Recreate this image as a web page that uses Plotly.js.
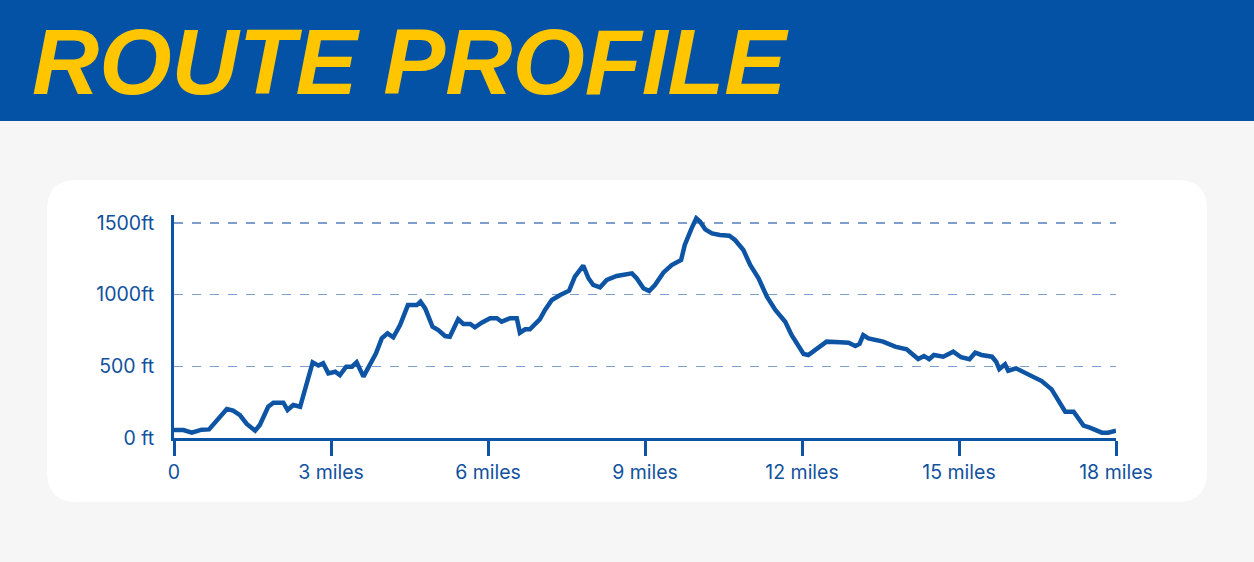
<!DOCTYPE html>
<html>
<head>
<meta charset="utf-8">
<script src="https://cdn.plot.ly/plotly-3.0.1.min.js"></script>
<style>
  html, body { margin: 0; padding: 0; background: #f6f6f6; }
  #chart { width: 1254px; height: 562px; }
</style>
</head>
<body>
<div id="chart"></div>
<script>
// ---- data ----
const titleText = 'ROUTE PROFILE';
const distanceMiles = [
  0.00, 0.18, 0.34, 0.53, 0.67, 1.01, 1.13, 1.26, 1.39, 1.55, 1.64, 1.80, 1.90, 2.09, 2.17, 2.28, 2.41,
  2.65, 2.76, 2.85, 2.95, 3.08, 3.17, 3.29, 3.40, 3.49, 3.62, 3.78, 3.86, 3.97, 4.08, 4.19, 4.32,
  4.47, 4.64, 4.71, 4.80, 4.94, 5.05, 5.18, 5.27, 5.43, 5.53, 5.66, 5.75, 5.88, 6.04, 6.17, 6.26,
  6.42, 6.55, 6.61, 6.71, 6.80, 6.90, 6.99, 7.09, 7.22, 7.38, 7.55, 7.66, 7.82, 7.92, 8.01, 8.14,
  8.27, 8.46, 8.75, 8.84, 8.97, 9.08, 9.19, 9.35, 9.51, 9.69, 9.76, 9.89, 9.98, 10.05, 10.15, 10.28,
  10.43, 10.61, 10.72, 10.88, 11.01, 11.17, 11.33, 11.49, 11.68, 11.80, 12.03, 12.12, 12.28, 12.47,
  12.73, 12.89, 13.02, 13.10, 13.17, 13.27, 13.55, 13.78, 14.00, 14.11, 14.22, 14.33, 14.43, 14.52,
  14.70, 14.89, 15.04, 15.20, 15.31, 15.43, 15.63, 15.71, 15.77, 15.88, 15.94, 16.09, 16.29, 16.58,
  16.77, 17.03, 17.19, 17.38, 17.50, 17.73, 17.85, 18.00
];
const elevationFt = [
  55, 55, 38, 58, 60, 202, 191, 160, 98, 51, 91, 218, 246, 246, 195, 230, 218,
  528, 505, 521, 451, 462, 439, 497, 497, 528, 428, 544, 590, 695, 730, 702, 788,
  927, 927, 951, 904, 776, 753, 711, 706, 828, 795, 795, 772, 804, 835, 835, 811,
  835, 835, 734, 758, 758, 800, 828, 893, 962, 997, 1027, 1125, 1202, 1114, 1067, 1051,
  1102, 1130, 1148, 1114, 1044, 1025, 1067, 1153, 1206, 1241, 1346, 1462, 1532, 1509, 1455, 1427,
  1416, 1411, 1381, 1311, 1206, 1114, 985, 893, 811, 718, 586, 579, 618, 672,
  668, 665, 642, 656, 718, 695, 672, 637, 618, 586, 551, 572, 549, 579,
  567, 602, 563, 549, 595, 579, 567, 532, 481, 514, 469, 486, 451, 397,
  339, 183, 183, 86, 72, 37, 37, 51
];
const xTickVals = [0, 3, 6, 9, 12, 15, 18];
const xTickText = ['0', '3 miles', '6 miles', '9 miles', '12 miles', '15 miles', '18 miles'];
const yTickVals = [0, 500, 1000, 1500];
const yTickText = ['0 ft', '500 ft', '1000ft', '1500ft'];

// ---- layout geometry ----
const FW = 1254, FH = 562;
const M = { l: 174, r: 138, t: 215, b: 124 };
const PW = FW - M.l - M.r, PH = FH - M.t - M.b;
const fx = px => (px - M.l) / PW;
const fy = py => (M.t + PH - py) / PH;

const BLUE = '#0d55a4';
const HEADER = '#0352a5';
const YELLOW = '#FFC600';

function roundedRectPath(x0, y0, x1, y1, r) {
  const p = [
    'M', fx(x0 + r), fy(y0),
    'L', fx(x1 - r), fy(y0),
    'Q', fx(x1), fy(y0), fx(x1), fy(y0 + r),
    'L', fx(x1), fy(y1 - r),
    'Q', fx(x1), fy(y1), fx(x1 - r), fy(y1),
    'L', fx(x0 + r), fy(y1),
    'Q', fx(x0), fy(y1), fx(x0), fy(y1 - r),
    'L', fx(x0), fy(y0 + r),
    'Q', fx(x0), fy(y0), fx(x0 + r), fy(y0),
    'Z'
  ];
  let s = '';
  for (const t of p) s += (typeof t === 'number' ? t.toFixed(5) : t) + ' ';
  return s.trim();
}

const tickFont = { family: 'Inter, "Open Sans", sans-serif', size: 19.5, color: '#11519e' };

const trace = {
  type: 'scatter',
  mode: 'lines',
  x: distanceMiles,
  y: elevationFt,
  line: { color: BLUE, width: 4.5, shape: 'linear' },
  hoverinfo: 'x+y',
  cliponaxis: false
};

const layout = {
  width: FW, height: FH,
  margin: M,
  paper_bgcolor: '#f6f6f6',
  plot_bgcolor: 'rgba(0,0,0,0)',
  showlegend: false,
  xaxis: {
    range: [0, 18],
    tickvals: xTickVals,
    ticktext: xTickText,
    showgrid: false,
    zeroline: false,
    showline: true,
    linecolor: BLUE,
    linewidth: 3,
    ticks: 'outside',
    ticklen: 15,
    tickwidth: 3,
    tickcolor: BLUE,
    tickfont: tickFont,
    fixedrange: true
  },
  yaxis: {
    range: [0, 1555],
    tickvals: yTickVals,
    ticktext: yTickText,
    showgrid: true,
    gridcolor: '#7e9fcd',
    gridwidth: 1.3,
    griddash: 'dash',
    zeroline: false,
    showline: true,
    linecolor: BLUE,
    linewidth: 3,
    ticks: '',
    ticklabelstandoff: 13,
    tickfont: tickFont,
    fixedrange: true
  },
  shapes: [
    {
      type: 'rect', xref: 'paper', yref: 'paper', layer: 'below',
      x0: fx(0), x1: fx(FW), y0: fy(121), y1: fy(0),
      fillcolor: HEADER, line: { width: 0 }
    },
    {
      type: 'path', xref: 'paper', yref: 'paper', layer: 'below',
      path: roundedRectPath(47, 180, 1207, 502, 30),
      fillcolor: '#ffffff', line: { width: 0 }
    }
  ],
  annotations: [
    {
      text: titleText,
      xref: 'paper', yref: 'paper',
      x: fx(25), y: fy(62),
      xanchor: 'left', yanchor: 'middle',
      showarrow: false,
      borderpad: 6,
      font: { family: '"Liberation Sans", Arial, sans-serif', size: 93, weight: 700, style: 'italic', color: YELLOW }
    }
  ]
};

Plotly.newPlot('chart', [trace], layout, { displayModeBar: false, staticPlot: true });
</script>
</body>
</html>
